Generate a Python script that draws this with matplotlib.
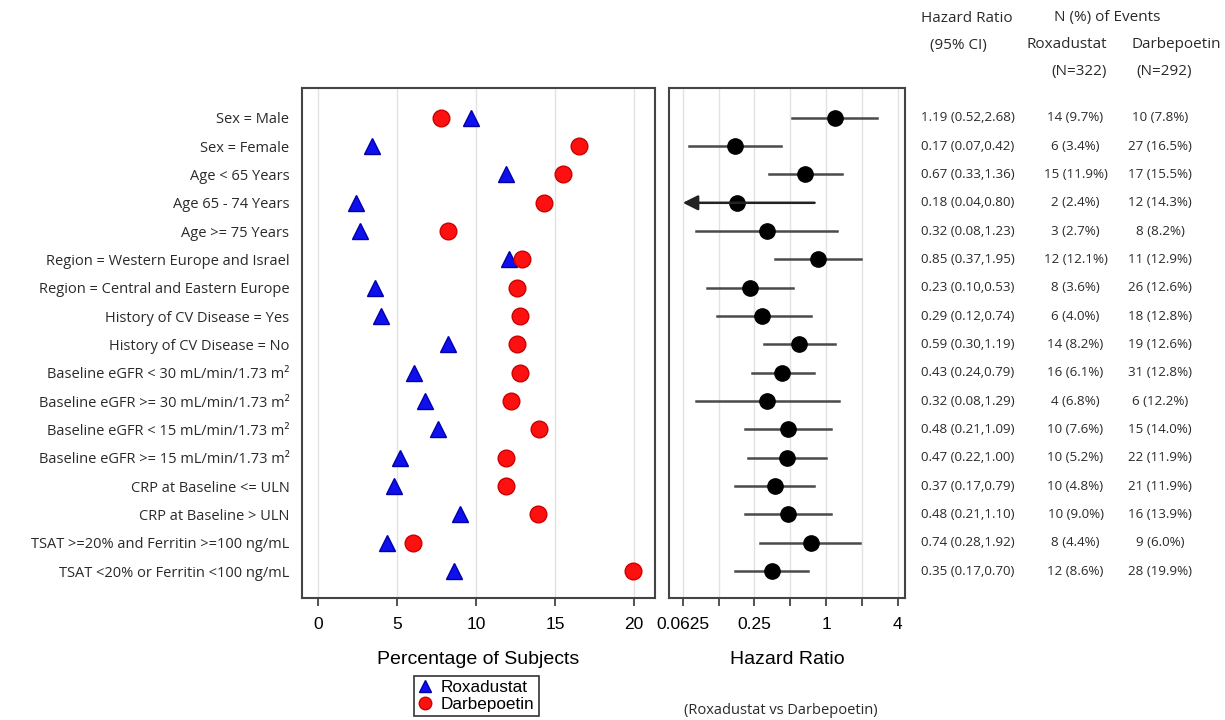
import numpy as np
import matplotlib
matplotlib.use('Agg')
import matplotlib.pyplot as plt
import matplotlib.transforms as mtransforms
from matplotlib.lines import Line2D

plt.rcParams['font.family'] = ['Liberation Sans', 'DejaVu Sans']
table_font = ['Open Sans', 'DejaVu Sans']

# subgroup rows, top to bottom
subgroups = ['Sex = Male', 'Sex = Female', 'Age < 65 Years', 'Age 65 - 74 Years',
             'Age >= 75 Years', 'Region = Western Europe and Israel',
             'Region = Central and Eastern Europe', 'History of CV Disease = Yes',
             'History of CV Disease = No', 'Baseline eGFR < 30 mL/min/1.73 m\u00b2',
             'Baseline eGFR >= 30 mL/min/1.73 m\u00b2', 'Baseline eGFR < 15 mL/min/1.73 m\u00b2',
             'Baseline eGFR >= 15 mL/min/1.73 m\u00b2', 'CRP at Baseline <= ULN',
             'CRP at Baseline > ULN', 'TSAT >=20% and Ferritin >=100 ng/mL',
             'TSAT <20% or Ferritin <100 ng/mL']

rox_n = [14, 6, 15, 2, 3, 12, 8, 6, 14, 16, 4, 10, 10, 10, 10, 8, 12]
rox_pct = [9.7, 3.4, 11.9, 2.4, 2.7, 12.1, 3.6, 4.0, 8.2, 6.1, 6.8, 7.6, 5.2, 4.8, 9.0, 4.4, 8.6]
darb_n = [10, 27, 17, 12, 8, 11, 26, 18, 19, 31, 6, 15, 22, 21, 16, 9, 28]
darb_pct = [7.8, 16.5, 15.5, 14.3, 8.2, 12.9, 12.6, 12.8, 12.6, 12.8, 12.2, 14.0, 11.9, 11.9, 13.9, 6.0, 19.9]

hr = [1.19, 0.17, 0.67, 0.18, 0.32, 0.85, 0.23, 0.29, 0.59, 0.43, 0.32, 0.48, 0.47, 0.37, 0.48, 0.74, 0.35]
hr_lo = [0.52, 0.07, 0.33, 0.04, 0.08, 0.37, 0.10, 0.12, 0.30, 0.24, 0.08, 0.21, 0.22, 0.17, 0.21, 0.28, 0.17]
hr_hi = [2.68, 0.42, 1.36, 0.80, 1.23, 1.95, 0.53, 0.74, 1.19, 0.79, 1.29, 1.09, 1.00, 0.79, 1.10, 1.92, 0.70]

pct_ticks = [0, 5, 10, 15, 20]
hr_ticks = [0.0625, 0.125, 0.25, 0.5, 1, 2, 4]
hr_ticklabels = ['0.0625', '', '0.25', '', '1', '', '4']

y = np.arange(len(subgroups))
frame_col = '#444444'
txt_col = '#2a2a2a'

fig = plt.figure(figsize=(12.25, 7.2), dpi=100)
ax1 = fig.add_axes([0.2465, 0.1694, 0.288, 0.7083])
ax2 = fig.add_axes([0.546, 0.1694, 0.1927, 0.7083])

for ax in (ax1, ax2):
    ax.set_ylim(len(subgroups) - 0.05, -1.05)
    for s in ax.spines.values():
        s.set_color(frame_col)
        s.set_linewidth(1.5)
    ax.tick_params(axis='y', length=0, pad=9)
    ax.tick_params(axis='x', length=6, width=1.3, color=frame_col, labelsize=12.5, pad=8)
    ax.set_axisbelow(True)

# left panel: percentages
ax1.grid(axis='x', color='#e2e2e2', lw=1)
ax1.plot(rox_pct, y, ls='none', marker='^', ms=11, color='#1010ee', mec='#0000aa', label='Roxadustat')
ax1.plot(darb_pct, y, ls='none', marker='o', ms=12, color='#ff1010', mec='#cc0000', label='Darbepoetin')
ax1.set_xlim(-1.0, 21.3)
ax1.set_xticks(pct_ticks)
ax1.set_yticks(y)
ax1.set_yticklabels(subgroups, fontsize=10.5, family=table_font, color=txt_col)
ax1.set_xlabel('Percentage of Subjects', fontsize=14, labelpad=13)

# right panel: hazard ratio on log2 scale
ax2.set_xscale('log', base=2)
ax2.set_xlim(2 ** -4.39, 2 ** 2.2)
ax2.set_xticks(hr_ticks)
ax2.set_xticklabels(hr_ticklabels)
ax2.minorticks_off()
ax2.grid(axis='x', color='#e2e2e2', lw=1)
ax2.set_yticks([])
xmin = hr_ticks[0]
for i in range(len(subgroups)):
    lo = hr_lo[i]
    if lo < xmin:
        ax2.annotate('', xy=(xmin, i), xytext=(hr_hi[i], i),
                     arrowprops=dict(arrowstyle='-|>,head_length=0.9,head_width=0.45',
                                     color='#222222', lw=1.8, shrinkA=0, shrinkB=0))
    else:
        ax2.plot([lo, hr_hi[i]], [i, i], color='#4a4a4a', lw=1.8)
ax2.plot(hr, y, ls='none', marker='o', ms=11, color='black')
ax2.set_xlabel('Hazard Ratio', fontsize=14, labelpad=13)

# table on the right
tr = mtransforms.blended_transform_factory(fig.transFigure, ax2.transData)
cell = dict(transform=tr, va='center', fontsize=9.6, color=txt_col, family=table_font)
for i in range(len(subgroups)):
    fig.text(0.752, i, '%.2f (%.2f,%.2f)' % (hr[i], hr_lo[i], hr_hi[i]), ha='left', **cell)
    fig.text(0.878, i, '%d (%.1f%%)' % (rox_n[i], rox_pct[i]), ha='center', **cell)
    fig.text(0.947, i, '%d (%.1f%%)' % (darb_n[i], darb_pct[i]), ha='center', **cell)

hdr = dict(fontsize=11, color=txt_col, ha='center', va='center', family=table_font)
fig.text(0.789, 1 - 18 / 720, 'Hazard Ratio', **hdr)
fig.text(0.782, 1 - 45 / 720, '(95% CI)', **hdr)
fig.text(0.904, 1 - 18 / 720, 'N (%) of Events', **hdr)
fig.text(0.871, 1 - 45 / 720, 'Roxadustat', **hdr)
fig.text(0.960, 1 - 45 / 720, 'Darbepoetin', **hdr)
fig.text(0.881, 1 - 72 / 720, '(N=322)', **hdr)
fig.text(0.950, 1 - 72 / 720, '(N=292)', **hdr)

fig.text(0.637, 1 - 710 / 720, '(Roxadustat vs Darbepoetin)', fontsize=10.5,
         color=txt_col, ha='center', va='center', family=table_font)

handles = [Line2D([], [], ls='none', marker='^', ms=9, color='#1010ee', mec='#0000aa'),
           Line2D([], [], ls='none', marker='o', ms=9, color='#ff1010', mec='#cc0000')]
leg = fig.legend(handles, ['Roxadustat', 'Darbepoetin'], loc='center',
                 bbox_to_anchor=(0.389, 1 - 696 / 720), fontsize=12.3, frameon=True,
                 fancybox=False, edgecolor='black', handlelength=0.8, handletextpad=0.5,
                 borderpad=0.25, labelspacing=0.1, borderaxespad=0)
leg.get_frame().set_linewidth(1.2)

fig.savefig('out.png', dpi=100)
